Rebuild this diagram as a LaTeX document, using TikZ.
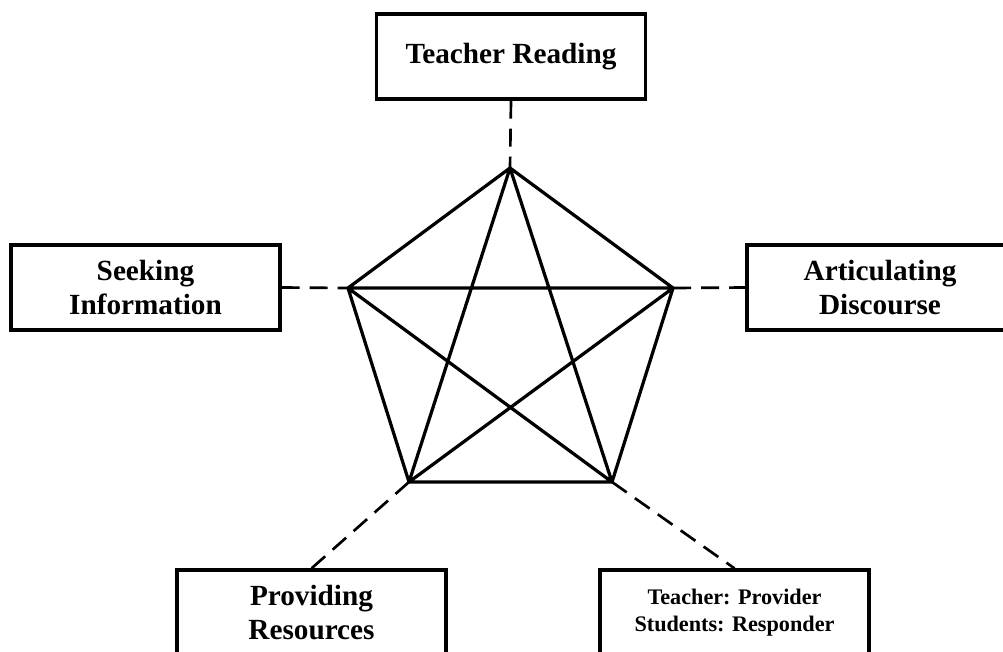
\documentclass[tikz,border=0pt]{standalone}
\usepackage{fontspec}
\setmainfont{Liberation Serif}
\usepackage{tikz}

\tikzset{
  rolebox/.style={draw, line width=2.3pt, align=center, inner sep=0pt,
    minimum width=269*0.025cm, minimum height=85*0.025cm,
    font=\bfseries\fontsize{20.8}{24}\selectfont},
  smallbox/.style={rolebox, font=\bfseries\fontsize{15.8}{19.2}\selectfont},
  link/.style={line width=1.9pt, dash pattern=on 0.45cm off 0.25cm},
  side/.style={line width=2.3pt, line cap=round, line join=round}
}

\begin{document}
\begin{tikzpicture}[x=0.025cm, y=-0.025cm]
	\useasboundingbox (0,0) rectangle (1003,651);
	\clip (0,0) rectangle (1003,651);
	%Nodes
	\node[rolebox] (TR) at (511,56.5) {Teacher Reading};
	\node[rolebox] (SI) at (145.5,287.5) {Seeking\\Information};
	\node[rolebox, minimum width=266*0.025cm] (AD) at (880,287.5) {Articulating\\Discourse};
	\node[rolebox] (PR) at (311.5,612.5) {Providing\\Resources};
	\node[smallbox] (TP) at (734.5,612.5) {Teacher: Provider\\Students: Responder};
	%Corners
	\coordinate (vT) at (510,168);
	\coordinate (vL) at (348,288);
	\coordinate (vR) at (673,288);
	\coordinate (vBL) at (409,482);
	\coordinate (vBR) at (612,482);
	%Pentagon and star
	\draw[side]
		(vT) -- (vR) -- (vBR) -- (vBL) -- (vL) -- cycle
		(vT) -- (vBL)
		(vT) -- (vBR)
		(vL) -- (vR)
		(vL) -- (vBR)
		(vR) -- (vBL)
	;
	%Dashed links
	\draw[link]
		(TR.south) -- (vT)
		(SI.east) -- (vL)
		(vR) -- (AD.west)
		(vBL) -- (PR.north)
		(vBR) -- (TP.north)
	;
\end{tikzpicture}
\end{document}
